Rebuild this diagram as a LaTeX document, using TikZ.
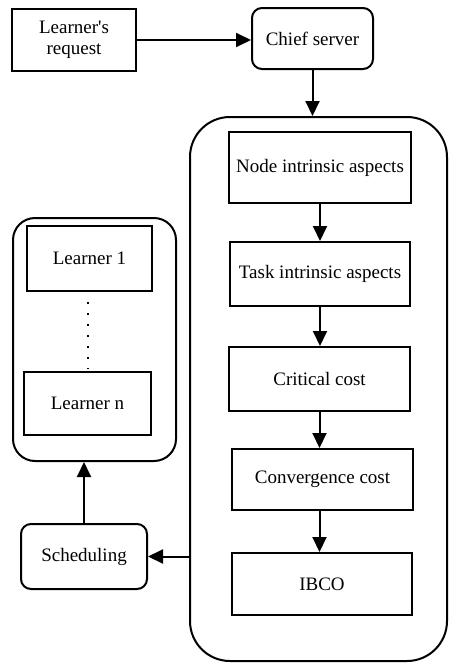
\documentclass[tikz,border=0pt]{standalone}
\usepackage{fontspec}
\setmainfont{Liberation Serif}
\usetikzlibrary{arrows.meta}
\begin{document}
\begin{tikzpicture}[x=1pt,y=-1pt,
  box/.style={draw, line width=2pt, inner sep=0pt, align=center, font=\fontsize{19}{21.5}\selectfont},
  rbox/.style={box, rounded corners=10pt},
  frame/.style={draw, line width=2pt, inner sep=0pt},
  arr/.style={-{Triangle[length=15pt,width=14pt]}, line width=2pt},
  dots/.style={line width=2pt, dash pattern=on 2pt off 9pt}]
\useasboundingbox (0,0) rectangle (448,664);
% containers
\node[frame, rounded corners=40pt, minimum width=257pt, minimum height=544pt] (big) at (318.5,389) {};
\node[frame, rounded corners=22pt, minimum width=163pt, minimum height=243pt] (lc) at (94.5,339.5) {};
% top
\node[box, minimum width=124pt, minimum height=62pt] (req) at (74,40) {Learner\textquotesingle s\\request};
\node[rbox, minimum width=121pt, minimum height=61pt] (chief) at (312.5,38.5) {Chief server};
% chain
\node[box, minimum width=182pt, minimum height=71pt] (nia) at (320,167.5) {Node intrinsic aspects};
\node[box, minimum width=180pt, minimum height=64pt] (tia) at (320,274) {Task intrinsic aspects};
\node[box, minimum width=181pt, minimum height=64pt] (cc) at (319.5,379) {Critical cost};
\node[box, minimum width=181pt, minimum height=61pt] (conv) at (322.5,479.5) {Convergence cost};
\node[box, minimum width=180pt, minimum height=62pt] (ibco) at (322,584) {IBCO};
% learners
\node[box, minimum width=125pt, minimum height=65pt] (l1) at (89.5,258.5) {Learner 1};
\node[box, minimum width=127pt, minimum height=63pt] (ln) at (87.5,403.5) {Learner n};
\node[rbox, minimum width=126pt, minimum height=65pt] (sched) at (84,556.5) {Scheduling};
% connectors
\draw[arr] (req.east) -- (req.east -| chief.west);
\draw[arr] (chief.south) -- (chief.south |- big.north);
\draw[arr] (nia.south) -- (nia.south |- tia.north);
\draw[arr] (tia.south) -- (tia.south |- cc.north);
\draw[arr] (cc.south) -- (cc.south |- conv.north);
\draw[arr] (conv.south -| cc.south) -- (cc.south |- ibco.north);
\draw[arr] (big.west |- sched.east) -- (sched.east);
\draw[arr] (sched.north) -- (sched.north |- lc.south);
\draw[dots] ([yshift=-10pt]l1.south -| 88,0) -- ([yshift=2pt]ln.north -| 88,0);
\end{tikzpicture}
\end{document}
